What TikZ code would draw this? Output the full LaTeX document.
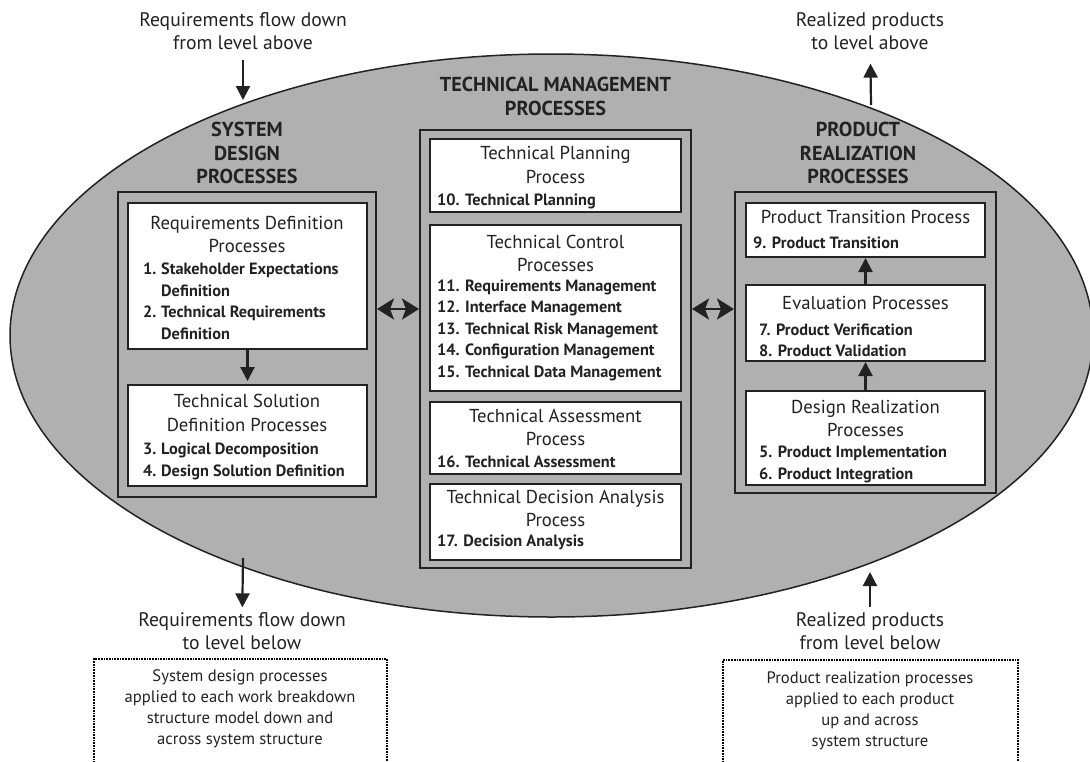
\documentclass[tikz,border=0pt]{standalone}
\usepackage{fontspec}
\setmainfont{PT Sans}
\usetikzlibrary{arrows.meta,shapes.geometric}
\definecolor{shade}{HTML}{B0B0B0}
\definecolor{ink}{HTML}{222222}
\newcommand{\itemno}[1]{\makebox[18pt][l]{#1}}

\begin{document}
\begin{tikzpicture}[x=1pt,y=-1pt]
    \tikzstyle{panel}=[rectangle,draw=ink,line width=1.7pt,fill=shade,outer sep=0pt]
    \tikzstyle{box}=[rectangle,draw=ink,line width=1.4pt,fill=white,outer sep=0pt]
    \tikzstyle{note}=[rectangle,draw=black,line width=1.7pt,densely dotted,outer sep=0pt]
    \tikzstyle{caps}=[align=center,text=ink,font=\fontsize{20.2}{23.5}\selectfont\bfseries]
    \tikzstyle{head}=[align=center,text=ink,font=\fontsize{18.7}{23.5}\selectfont]
    \tikzstyle{items}=[align=left,anchor=west,text=ink,inner xsep=0pt,font=\fontsize{16.3}{21.5}\selectfont\bfseries]
    \tikzstyle{outside}=[align=center,text=ink,font=\fontsize{19.6}{23}\selectfont]
    \tikzstyle{notetext}=[align=center,text=ink,font=\fontsize{16.6}{21}\selectfont]
    \tikzstyle{flow}=[ink,line width=2.2pt,-{Triangle[length=14pt,width=14pt]}]
    \tikzstyle{bothway}=[ink,line width=2.6pt,{Stealth[length=17pt,width=21pt,inset=4pt]}-{Stealth[length=17pt,width=21pt,inset=4pt]}]
    \useasboundingbox (0,0) rectangle (1090,761);
    % the level
    \node (level) [ellipse,draw=ink,line width=1.5pt,fill=shade,inner sep=0pt,minimum width=1083pt,minimum height=563pt] at (551.5,335.5) {};
    % three groups of processes
    \node (sysdesign) [panel,minimum width=258pt,minimum height=305pt] at (247,344.5) {};
    \node (techmgmt)  [panel,minimum width=271pt,minimum height=438pt] at (555.5,349) {};
    \node (prodreal)  [panel,minimum width=261pt,minimum height=301pt] at (865.5,342.5) {};
    \node (systitle)  [caps] at (247,153) {SYSTEM\\DESIGN\\PROCESSES};
    \node (mgmttitle) [caps] at (555.5,96.5) {TECHNICAL MANAGEMENT\\PROCESSES};
    \node (prodtitle) [caps] at (858,153) {PRODUCT\\REALIZATION\\PROCESSES};
    % system design
    \node (reqdef)  [box,minimum width=239pt,minimum height=146pt] at (247.5,276) {};
    \node (techsol) [box,minimum width=239pt,minimum height=101pt] at (247.5,435.5) {};
    \node (reqdefhead)  [head] at (247,234.5) {Requirements Definition\\Processes};
    \node (reqdefitems) [items] at (143,301.5) {\itemno{1.}Stakeholder Expectations\\\itemno{}Definition\\\itemno{2.}Technical Requirements\\\itemno{}Definition};
    \node (techsolhead)  [head] at (247,413) {Technical Solution\\Definition Processes};
    \node (techsolitems) [items] at (143,461.5) {\itemno{3.}Logical Decomposition\\\itemno{4.}Design Solution Definition};
    % technical management
    \node (planning) [box,minimum width=251pt,minimum height=73pt]  at (555.5,175.5) {};
    \node (control)  [box,minimum width=251pt,minimum height=166pt] at (555.5,308) {};
    \node (assess)   [box,minimum width=251pt,minimum height=72pt]  at (555.5,438) {};
    \node (decision) [box,minimum width=251pt,minimum height=76pt]  at (555.5,522) {};
    \node (planninghead)  [head] at (555.5,165) {Technical Planning\\Process};
    \node (planningitems) [items] at (437,201) {10. Technical Planning};
    \node (controlhead)   [head] at (555.5,253.5) {Technical Control\\Processes};
    \node (controlitems)  [items] at (437,330) {11. Requirements Management\\12. Interface Management\\13. Technical Risk Management\\14. Configuration Management\\15. Technical Data Management};
    \node (assesshead)    [head] at (555.5,427.5) {Technical Assessment\\Process};
    \node (assessitems)   [items] at (437,462) {16. Technical Assessment};
    \node (decisionhead)  [head] at (555.5,508.5) {Technical Decision Analysis\\Process};
    \node (decisionitems) [items] at (437,542) {17. Decision Analysis};
    % product realization
    \node (transition) [box,minimum width=239pt,minimum height=54pt] at (865.5,230) {};
    \node (evaluation) [box,minimum width=239pt,minimum height=76pt] at (865.5,323) {};
    \node (designreal) [box,minimum width=239pt,minimum height=94pt] at (865.5,438) {};
    \node (transitionhead)  [head] at (865.5,217) {Product Transition Process};
    \node (transitionitems) [items] at (753,243) {9. Product Transition};
    \node (evaluationhead)  [head] at (865.5,303) {Evaluation Processes};
    \node (evaluationitems) [items] at (759,340.5) {7. Product Verification\\8. Product Validation};
    \node (designrealhead)  [head] at (865.5,418.5) {Design Realization\\Processes};
    \node (designrealitems) [items] at (759,464.5) {5. Product Implementation\\6. Product Integration};
    \draw [flow] (reqdef.south) -- (techsol.north) [shorten >=4pt];
    \draw [flow] (designreal.north) -- (evaluation.south) [shorten >=1pt];
    \draw [flow] (evaluation.north) -- (transition.south) [shorten >=1pt];
    \coordinate (midrow) at (0,309);
    \draw [bothway] (sysdesign.east |- midrow) -- (techmgmt.west |- midrow) [shorten <=1pt,shorten >=1pt];
    \draw [bothway] (techmgmt.east |- midrow) -- (prodreal.west |- midrow) [shorten <=1pt,shorten >=1pt];
    % to and from the other levels
    \node (fromabove) [outside] at (243,31.5) {Requirements flow down\\from level above};
    \node (toabove)   [outside] at (870,31.5) {Realized products\\to level above};
    \node (tobelow)   [outside] at (242,631.5) {Requirements flow down\\to level below};
    \node (frombelow) [outside] at (870,631.5) {Realized products\\from level below};
    \coordinate (reqin)   at (243,100);
    \coordinate (prodout) at (871,105);
    \coordinate (reqout)  at (243,558);
    \coordinate (prodin)  at (870,572);
    \draw [flow] (fromabove) -- (reqin) [shorten <=6pt];
    \draw [flow] (prodout) -- (toabove) [shorten >=10pt];
    \draw [flow] (reqout) -- (tobelow) [shorten >=2pt];
    \draw [flow] (frombelow) -- (prodin) [shorten <=2pt];
    \node (sysnote)  [note,minimum width=293pt,minimum height=111pt] at (240.5,714.5) {};
    \node (prodnote) [note,minimum width=295pt,minimum height=111pt] at (870.5,715.5) {};
    \node (sysnotetext)  [notetext] at (240,709) {System design processes\\applied to each work breakdown\\structure model down and\\across system structure};
    \node (prodnotetext) [notetext] at (870,711) {Product realization processes\\applied to each product\\up and across\\system structure};
\end{tikzpicture}
\end{document}
